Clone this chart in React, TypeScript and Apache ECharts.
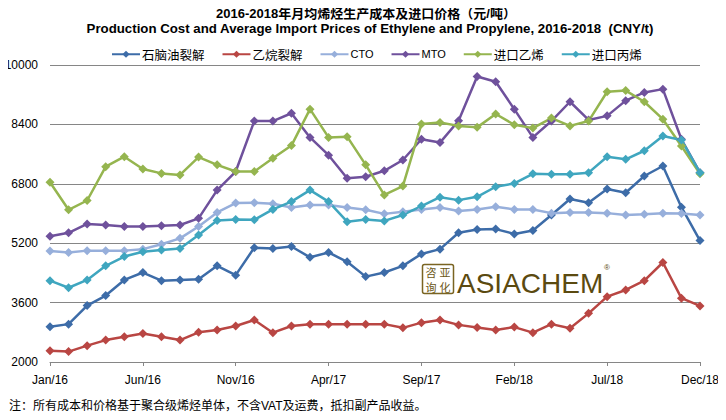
import React, { useEffect, useRef } from "react";
import * as echarts from "echarts";

const months = [
  "Jan/16","Feb/16","Mar/16","Apr/16","May/16","Jun/16","Jul/16","Aug/16","Sep/16","Oct/16","Nov/16","Dec/16",
  "Jan/17","Feb/17","Mar/17","Apr/17","May/17","Jun/17","Jul/17","Aug/17","Sep/17","Oct/17","Nov/17","Dec/17",
  "Jan/18","Feb/18","Mar/18","Apr/18","May/18","Jun/18","Jul/18","Aug/18","Sep/18","Oct/18","Nov/18","Dec/18",
];

const naphtha = [2950, 3020, 3520, 3790, 4210, 4410, 4190, 4210, 4230, 4590, 4340, 5080, 5060, 5110, 4820, 4950, 4700, 4300, 4410, 4590, 4910, 5040, 5480, 5570, 5580, 5450, 5540, 5960, 6390, 6290, 6660, 6560, 7010, 7280, 6170, 5270];
const ethane = [2300, 2280, 2440, 2590, 2680, 2770, 2680, 2590, 2800, 2860, 2970, 3130, 2790, 2970, 3020, 3020, 3020, 3020, 3020, 2920, 3060, 3130, 3000, 2930, 2860, 2940, 2790, 3020, 2910, 3310, 3760, 3940, 4190, 4680, 3720, 3510];
const cto = [4990, 4950, 5000, 5000, 5000, 5040, 5170, 5330, 5650, 6030, 6280, 6290, 6260, 6160, 6230, 6230, 6160, 6100, 5990, 6050, 6110, 6160, 6070, 6110, 6180, 6110, 6110, 6010, 6030, 6030, 6010, 5960, 5980, 6010, 6000, 5960];
const mto = [5390, 5480, 5720, 5690, 5650, 5650, 5670, 5690, 5870, 6630, 7130, 8490, 8490, 8700, 8050, 7570, 6950, 6990, 7150, 7440, 8000, 7910, 8500, 9690, 9550, 8810, 8050, 8490, 9010, 8520, 8630, 9040, 9260, 9350, 8000, 7100];
const importEthylene = [6840, 6100, 6350, 7260, 7530, 7200, 7080, 7040, 7520, 7310, 7130, 7130, 7490, 7830, 8810, 8050, 8070, 7310, 6500, 6740, 8410, 8450, 8360, 8320, 8680, 8390, 8300, 8570, 8360, 8490, 9280, 9310, 9010, 8540, 7820, 7070];
const importPropylene = [4190, 4000, 4210, 4590, 4840, 4970, 5020, 5060, 5420, 5810, 5840, 5830, 6110, 6320, 6630, 6320, 5780, 5840, 5800, 5960, 6200, 6440, 6360, 6450, 6720, 6810, 7070, 7060, 7060, 7100, 7530, 7460, 7690, 8090, 7980, 7100];

const seriesNames = ["石脑油裂解", "乙烷裂解", "CTO", "MTO", "进口乙烯", "进口丙烯"];
const seriesData = [naphtha, ethane, cto, mto, importEthylene, importPropylene];
const seriesColors = ["#3d6ca8", "#b94643", "#97afdb", "#6f519c", "#95b54f", "#3fa6bf"];

const titleCn = "2016-2018年月均烯烃生产成本及进口价格（元/吨）";
const titleEn = "Production Cost and Average Import Prices of Ethylene and Propylene, 2016-2018  (CNY/t)";
const noteText = "注：所有成本和价格基于聚合级烯烃单体，不含VAT及运费，抵扣副产品收益。";

export default function App() {
  const ref = useRef<HTMLDivElement>(null);
  useEffect(() => {
    if (!ref.current) return;
    const chart = echarts.init(ref.current, undefined, { renderer: "svg" });
    const font = "'Liberation Sans', Arial, 'Noto Sans CJK SC', sans-serif";
    const cjkFont = "'Noto Sans CJK SC', sans-serif";
    chart.setOption({
      animation: false,
      backgroundColor: "#ffffff",
      textStyle: { fontFamily: font },
      grid: { left: 50, right: 26, top: 65, bottom: 58, containLabel: false },
      legend: {
        top: 43,
        left: 106,
        itemWidth: 28,
        itemHeight: 9,
        itemGap: 17,
        textStyle: {
          fontSize: 12,
          color: "#000",
          fontFamily: font,
          padding: [0, 0, 0, -3],
          rich: {
            c: { fontSize: 12.5, fontFamily: cjkFont, color: "#000" },
            l: { fontSize: 11, fontFamily: font, color: "#000" },
          },
        },
        formatter: (name: string) => (/^[A-Z]+$/.test(name) ? `{l|${name}}` : `{c|${name}}`),
        data: seriesNames,
      },
      xAxis: {
        type: "category",
        data: months,
        boundaryGap: false,
        axisLine: { show: true, lineStyle: { color: "#868686", width: 1 } },
        axisTick: { show: true, interval: 4, length: 4, lineStyle: { color: "#868686" } },
        axisLabel: { interval: 4, fontSize: 12, color: "#000", margin: 12, fontFamily: font },
        splitLine: { show: false },
      },
      yAxis: {
        type: "value",
        min: 2000,
        max: 10000,
        interval: 1600,
        axisLine: { show: false },
        axisTick: { show: false },
        axisLabel: { fontSize: 12, color: "#000", margin: 12, fontFamily: font, formatter: (v: number) => String(v) },
        splitLine: { show: true, lineStyle: { color: "#868686", width: 1 } },
      },
      series: seriesNames.map((name, i) => ({
        name,
        type: "line",
        data: seriesData[i],
        color: seriesColors[i],
        symbol: "diamond",
        symbolSize: 9,
        showAllSymbol: true,
        lineStyle: { width: 2.5, color: seriesColors[i] },
        itemStyle: { color: seriesColors[i] },
      })),
      graphic: [
        {
          type: "text",
          x: 366,
          y: 13,
          style: {
            text: titleCn,
            fill: "#000",
            font: "bold 13px 'Liberation Sans', 'Noto Sans CJK SC', sans-serif",
            align: "center",
            verticalAlign: "middle",
          },
        },
        {
          type: "text",
          x: 370,
          y: 29,
          scaleX: 1.02,
          style: {
            text: titleEn,
            fill: "#000",
            font: "bold 13px 'Liberation Sans', Arial, sans-serif",
            align: "center",
            verticalAlign: "middle",
          },
        },
        {
          type: "text",
          x: 9,
          y: 406,
          style: {
            text: noteText,
            fill: "#000",
            font: "12px 'Liberation Sans', 'Noto Sans CJK SC', sans-serif",
            align: "left",
            verticalAlign: "middle",
          },
        },
        {
          type: "group",
          children: [
            {
              type: "rect",
              shape: { x: 422.5, y: 264.5, width: 31, height: 29, r: 2 },
              style: { fill: "rgba(255,255,255,0.6)", stroke: "#7a6422", lineWidth: 1.5 },
            },
            { type: "text", x: 431, y: 272, style: { text: "咨", fill: "#6b5718", font: "11px 'Noto Sans CJK SC', serif", align: "center", verticalAlign: "middle" } },
            { type: "text", x: 445, y: 272, style: { text: "亚", fill: "#6b5718", font: "11px 'Noto Sans CJK SC', serif", align: "center", verticalAlign: "middle" } },
            { type: "text", x: 431, y: 287, style: { text: "询", fill: "#6b5718", font: "11px 'Noto Sans CJK SC', serif", align: "center", verticalAlign: "middle" } },
            { type: "text", x: 445, y: 287, style: { text: "化", fill: "#6b5718", font: "11px 'Noto Sans CJK SC', serif", align: "center", verticalAlign: "middle" } },
            { type: "text", x: 457, y: 283, style: { text: "ASIACHEM", fill: "#5b4a10", font: "28px 'Liberation Sans', sans-serif", align: "left", verticalAlign: "middle" } },
            { type: "text", x: 604, y: 267, style: { text: "®", fill: "#5b4a10", font: "8px 'Liberation Sans', sans-serif", align: "left", verticalAlign: "middle" } },
          ],
        },
      ],
    });
    return () => chart.dispose();
  }, []);
  return <div ref={ref} style={{ width: 726, height: 420, margin: -8 }} />;
}
